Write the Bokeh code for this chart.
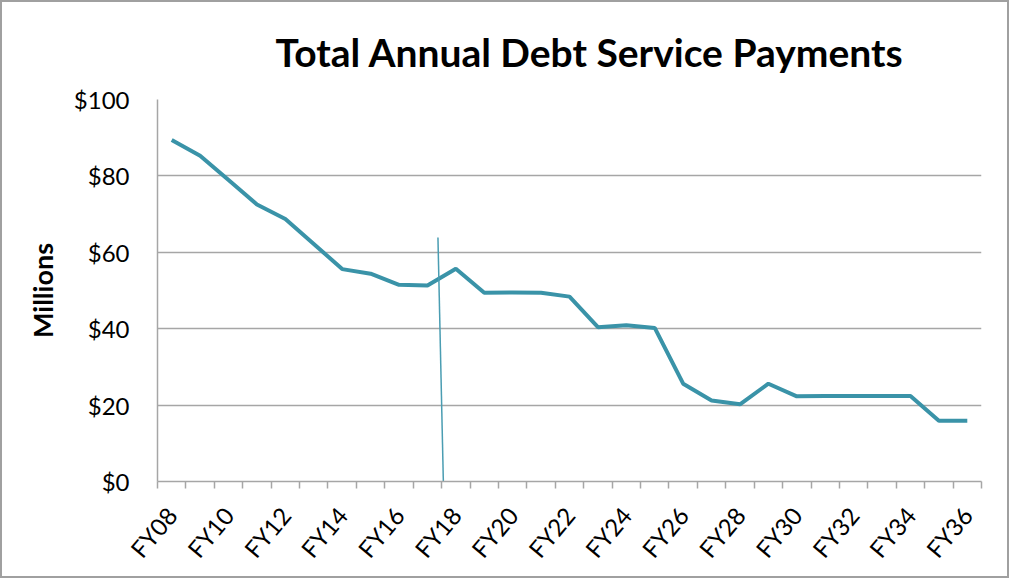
from bokeh.plotting import figure
from bokeh.layouts import column
from bokeh.models import FixedTicker, Range1d, NumeralTickFormatter
from bokeh.embed import file_html
from bokeh.resources import INLINE

# ---- data ----
fiscal_years = ["FY08", "FY09", "FY10", "FY11", "FY12", "FY13", "FY14", "FY15",
                "FY16", "FY17", "FY18", "FY19", "FY20", "FY21", "FY22", "FY23",
                "FY24", "FY25", "FY26", "FY27", "FY28", "FY29", "FY30", "FY31",
                "FY32", "FY33", "FY34", "FY35", "FY36"]
payments = [89.4, 85.3, 78.9, 72.5, 68.7, 62.2, 55.6, 54.4, 51.5, 51.3,
            55.7, 49.4, 49.5, 49.4, 48.4, 40.4, 40.9, 40.2, 25.6, 21.2,
            20.2, 25.6, 22.3, 22.4, 22.4, 22.4, 22.4, 15.9, 15.9]
y_ticks = [0, 20, 40, 60, 80, 100]
# thin divider line (category-index position, value in millions)
divider_x = [9.37, 9.56]
divider_y = [63.9, 0]
title_text = "Total Annual Debt Service Payments"

x_idx = list(range(len(fiscal_years)))

FONT = "Lato"
GRID = "#a6a6a6"
TEAL = "#3a93a8"

p = figure(width=1005, height=574, output_backend="svg", toolbar_location=None,
           x_range=Range1d(-0.5, len(fiscal_years) - 0.5), y_range=Range1d(0, 100),
           min_border_left=155, min_border_right=26, min_border_top=97, min_border_bottom=95)
p.outline_line_color = None
p.background_fill_color = "white"
p.border_fill_color = "white"

p.line(x_idx, payments, line_width=4, color=TEAL)
p.segment(x0=[divider_x[0]], y0=[divider_y[0]], x1=[divider_x[1]], y1=[divider_y[1]],
          line_width=1.5, color="#4a9db2")

# title
p.title.text = title_text
p.title.text_font = FONT
p.title.text_font_style = "bold"
p.title.text_font_size = "39px"
p.title.text_color = "black"
p.title.align = "left"
p.title.offset = 118
p.title.vertical_align = "top"
p.title.standoff = 45

# y axis
ya = p.yaxis[0]
ya.ticker = FixedTicker(ticks=y_ticks)
ya.formatter = NumeralTickFormatter(format="$0")
ya.major_label_text_font = FONT
ya.major_label_text_font_size = "24px"
ya.major_label_text_color = "black"
ya.major_tick_line_color = None
ya.minor_tick_line_color = None
ya.axis_line_color = GRID
ya.axis_line_width = 1.5
ya.major_label_standoff = 22
ya.axis_label = "Millions"
ya.axis_label_text_font = FONT
ya.axis_label_text_font_style = "bold"
ya.axis_label_text_font_size = "27px"
ya.axis_label_text_color = "black"
ya.axis_label_standoff = 12

# x axis
xa = p.xaxis[0]
label_ticks = x_idx[::2]
xa.ticker = FixedTicker(ticks=label_ticks, minor_ticks=[i - 0.5 for i in range(len(fiscal_years) + 1)])
xa.major_label_overrides = {i: fiscal_years[i] for i in label_ticks}
xa.major_label_orientation = 0.87
xa.major_label_text_font = FONT
xa.major_label_text_font_size = "24px"
xa.major_label_text_color = "black"
xa.major_tick_line_color = None
xa.minor_tick_line_color = GRID
xa.minor_tick_line_width = 1.5
xa.minor_tick_in = 0
xa.minor_tick_out = 7
xa.axis_line_color = GRID
xa.axis_line_width = 1.5
xa.major_label_standoff = 22

p.xgrid.grid_line_color = None
p.ygrid.grid_line_color = GRID
p.ygrid.grid_line_width = 1.5

layout = column(p, styles={"border": "2px solid #a0a0a0"})

open("out.html", "w").write(file_html(layout, INLINE))
